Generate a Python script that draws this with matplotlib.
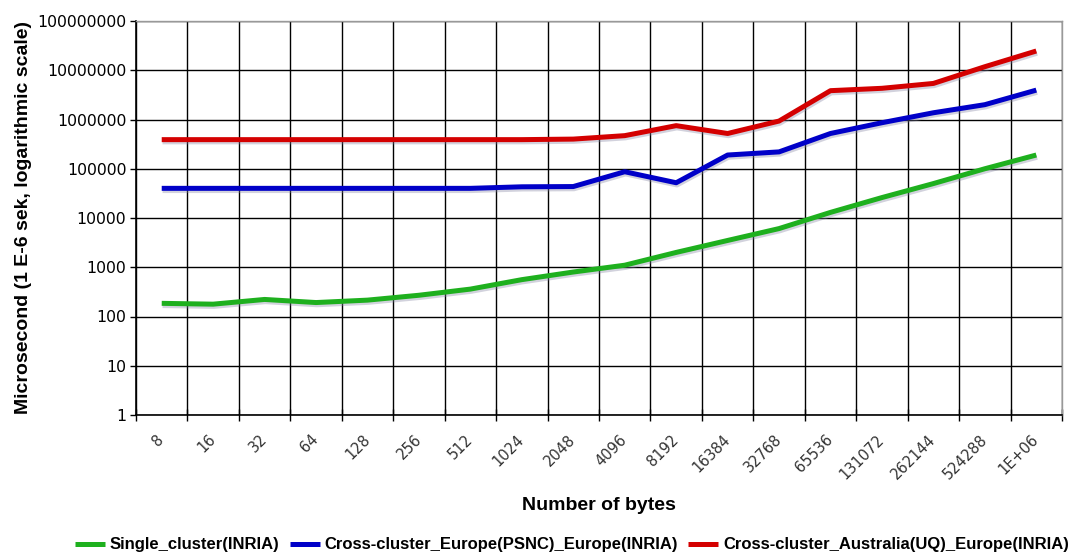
import matplotlib
matplotlib.use("Agg")
import matplotlib.pyplot as plt
import matplotlib.patheffects as pe
from matplotlib.ticker import FixedLocator, FuncFormatter, NullFormatter, NullLocator

categories = ['8', '16', '32', '64', '128', '256', '512', '1024', '2048', '4096',
              '8192', '16384', '32768', '65536', '131072', '262144', '524288', '1E+06']

single_cluster = [185, 178, 222, 192, 215, 270, 360, 560, 800, 1100,
                  2000, 3500, 6100, 13000, 26000, 50000, 100000, 190000]
europe_europe = [40000, 40000, 40000, 40000, 40000, 40000, 40000, 43000, 43500, 87000,
                 52000, 190000, 220000, 520000, 860000, 1370000, 2000000, 3950000]
australia_europe = [390000, 390000, 390000, 390000, 390000, 390000, 390000, 390000, 400000, 470000,
                    750000, 520000, 930000, 3850000, 4300000, 5400000, 11800000, 24600000]

series_names = ['Single_cluster(INRIA)',
                'Cross-cluster_Europe(PSNC)_Europe(INRIA)',
                'Cross-cluster_Australia(UQ)_Europe(INRIA)']
series_colors = ['#1eb01e', '#0000c8', '#d40000']

fig = plt.figure(figsize=(10.8, 5.58), dpi=100)
ax = fig.add_axes([136/1080, 1 - 415/558, (1062-136)/1080, (415-21)/558])

x = list(range(len(categories)))
shadow = [pe.SimpleLineShadow(offset=(0.6, -1.6), shadow_color='#8080a0', alpha=0.35), pe.Normal()]
for vals, name, col in zip([single_cluster, europe_europe, australia_europe], series_names, series_colors):
    ax.plot(x, vals, color=col, lw=3.6, label=name, solid_capstyle='butt',
            solid_joinstyle='round', path_effects=shadow, zorder=3)

ax.set_yscale('log')
ax.set_ylim(1, 1e8)
ax.set_xlim(-0.5, len(categories) - 0.5)

ax.yaxis.set_major_locator(FixedLocator([10**k for k in range(9)]))
ax.yaxis.set_major_formatter(FuncFormatter(lambda v, p: f"{int(round(v))}"))
ax.yaxis.set_minor_locator(NullLocator())

bounds = [i - 0.5 for i in range(len(categories) + 1)]
ax.xaxis.set_major_locator(FixedLocator(bounds))
ax.xaxis.set_major_formatter(NullFormatter())
ax.xaxis.set_minor_locator(FixedLocator(x))
ax.set_xticklabels(categories, minor=True)

ax.grid(True, which='major', color='black', lw=1.0)
ax.set_axisbelow(True)
ax.tick_params(axis='x', which='major', direction='inout', length=8, width=1, color='black')
ax.tick_params(axis='x', which='minor', length=0, pad=16, labelsize=10.5, labelcolor='#333333')
ax.tick_params(axis='y', which='major', direction='out', length=4, width=1, labelsize=11.3, pad=3)
for lbl in ax.get_xticklabels(minor=True):
    lbl.set_rotation(45)
    lbl.set_ha('right')
    lbl.set_va('center')
    lbl.set_rotation_mode('anchor')

for s in ['left', 'bottom']:
    ax.spines[s].set_color('black')
    ax.spines[s].set_linewidth(1.2)
for s in ['top', 'right']:
    ax.spines[s].set_color('#999999')
    ax.spines[s].set_linewidth(1.0)

lab_font = dict(family='Liberation Sans', weight='bold', size=14)
ax.set_ylabel('Microsecond (1 E-6 sek, logarithmic scale)', fontdict=lab_font, labelpad=4)
ax.set_xlabel('Number of bytes', fontdict=lab_font, labelpad=11)

leg = fig.legend(loc='center', bbox_to_anchor=(572/1080, 1 - 545/558), ncol=3, frameon=False,
                 prop=dict(family='Liberation Sans', weight='bold', size=12),
                 handlelength=1.8, handletextpad=0.3, columnspacing=0.6)
for h in leg.legend_handles:
    h.set_path_effects([])

fig.savefig('out.png', dpi=100)
